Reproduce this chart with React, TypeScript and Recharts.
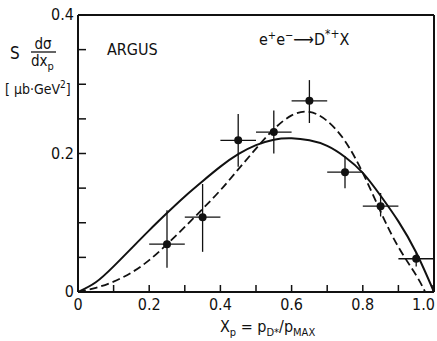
import { ComposedChart, ErrorBar, Line, Scatter, XAxis, YAxis } from 'recharts';

const INK = '#111';
const FONT = '"Liberation Sans Narrow", "DejaVu Sans Condensed", "Liberation Sans", sans-serif';

const pointX = [0.25, 0.35, 0.45, 0.55, 0.65, 0.75, 0.85, 0.95];
const pointY = [0.069, 0.108, 0.219, 0.231, 0.276, 0.173, 0.124, 0.048];
const pointLow = [0.035, 0.058, 0.181, 0.2, 0.244, 0.15, 0.109, 0.037];
const pointHigh = [0.118, 0.156, 0.257, 0.262, 0.306, 0.196, 0.143, 0.056];
const pointHalfBin = 0.05;

// solid model curve
const solidX = [0, 0.05, 0.1, 0.15, 0.2, 0.25, 0.3, 0.35, 0.4, 0.45, 0.5, 0.55, 0.6, 0.65, 0.7, 0.75, 0.8, 0.85, 0.9, 0.95, 1.0];
const solidY = [0, 0.014, 0.037, 0.063, 0.089, 0.114, 0.138, 0.16, 0.181, 0.199, 0.212, 0.22, 0.222, 0.219, 0.211, 0.195, 0.172, 0.139, 0.102, 0.057, 0];

// dashed model curve
const dashedX = [0, 0.05, 0.1, 0.15, 0.2, 0.25, 0.3, 0.35, 0.4, 0.45, 0.5, 0.55, 0.6, 0.65, 0.7, 0.75, 0.8, 0.85, 0.9, 0.95, 0.975];
const dashedY = [0, 0.006, 0.015, 0.028, 0.046, 0.069, 0.094, 0.12, 0.147, 0.177, 0.207, 0.235, 0.255, 0.26, 0.247, 0.218, 0.172, 0.116, 0.065, 0.024, 0];

const xTicks = [0, 0.1, 0.2, 0.3, 0.4, 0.5, 0.6, 0.7, 0.8, 0.9, 1.0];
const yTicks = [0, 0.05, 0.1, 0.15, 0.2, 0.25, 0.3, 0.35, 0.4];
const xLabelValues = [0, 0.2, 0.4, 0.6, 0.8, 1.0];
const xLabelText = ['0', '0.2', '0.4', '0.6', '0.8', '1.0'];
const yLabelValues = [0, 0.2, 0.4];
const yLabelText = ['0', '0.2', '0.4'];

const points = pointX.map((x, i) => ({
  x,
  y: pointY[i],
  ex: pointHalfBin,
  ey: [pointY[i] - pointLow[i], pointHigh[i] - pointY[i]],
}));
const solid = solidX.map((x, i) => ({ x, y: solidY[i] }));
const dashed = dashedX.map((x, i) => ({ x, y: dashedY[i] }));

const labelFor = (values: number[], texts: string[], v: number) => {
  const i = values.findIndex((t) => Math.abs(t - v) < 1e-6);
  return i >= 0 ? texts[i] : null;
};

const BottomTick = ({ x, y, payload }: any) => {
  const label = labelFor(xLabelValues, xLabelText, payload.value);
  // the last label sits against the right edge, so anchor it to its end
  const last = Math.abs(payload.value - 1) < 1e-6;
  return (
    <g>
      <line x1={x} y1={y} x2={x} y2={y - 7} stroke={INK} strokeWidth={1.5} />
      {label && (
        <text
          x={last ? x + 2 : x}
          y={y + 18}
          textAnchor={last ? 'end' : 'middle'}
          fill={INK}
          fontSize={16}
          fontFamily={FONT}
        >
          {label}
        </text>
      )}
    </g>
  );
};

const TopTick = ({ x, y }: any) => (
  <line x1={x} y1={y} x2={x} y2={y + 7} stroke={INK} strokeWidth={1.5} />
);

const LeftTick = ({ x, y, payload }: any) => {
  const label = labelFor(yLabelValues, yLabelText, payload.value);
  return (
    <g>
      <line x1={x} y1={y} x2={x + 8} y2={y} stroke={INK} strokeWidth={1.5} />
      {label && (
        <text x={x - 4} y={y + 5} textAnchor="end" fill={INK} fontSize={16} fontFamily={FONT}>
          {label}
        </text>
      )}
    </g>
  );
};

const RightTick = ({ x, y }: any) => (
  <line x1={x} y1={y} x2={x - 8} y2={y} stroke={INK} strokeWidth={1.5} />
);

export default function App() {
  return (
    <div style={{ position: 'absolute', left: 0, top: 0, width: 437, height: 341, background: '#fff' }}>
      <ComposedChart width={437} height={341} margin={{ top: 0, right: 0, bottom: 0, left: 0 }}>
        <XAxis
          xAxisId="bottom"
          dataKey="x"
          type="number"
          domain={[0, 1]}
          ticks={xTicks}
          allowDataOverflow
          height={49}
          tickSize={0}
          tickMargin={0}
          tickLine={false}
          tick={<BottomTick />}
          axisLine={{ stroke: INK, strokeWidth: 2 }}
        />
        <XAxis
          xAxisId="top"
          orientation="top"
          dataKey="x"
          type="number"
          domain={[0, 1]}
          ticks={xTicks}
          height={15}
          tickSize={0}
          tickMargin={0}
          tickLine={false}
          tick={<TopTick />}
          axisLine={{ stroke: INK, strokeWidth: 2 }}
        />
        <YAxis
          yAxisId="left"
          type="number"
          domain={[0, 0.4]}
          ticks={yTicks}
          allowDataOverflow
          width={78}
          tickSize={0}
          tickMargin={0}
          tickLine={false}
          tick={<LeftTick />}
          axisLine={{ stroke: INK, strokeWidth: 2 }}
        />
        <YAxis
          yAxisId="right"
          orientation="right"
          type="number"
          domain={[0, 0.4]}
          ticks={yTicks}
          width={3}
          tickSize={0}
          tickMargin={0}
          tickLine={false}
          tick={<RightTick />}
          axisLine={{ stroke: INK, strokeWidth: 2 }}
        />
        <Line
          xAxisId="bottom"
          yAxisId="left"
          data={solid}
          dataKey="y"
          type="natural"
          stroke={INK}
          strokeWidth={2}
          dot={false}
          isAnimationActive={false}
        />
        <Line
          xAxisId="bottom"
          yAxisId="left"
          data={dashed}
          dataKey="y"
          type="natural"
          stroke={INK}
          strokeWidth={1.8}
          strokeDasharray="8 4"
          dot={false}
          isAnimationActive={false}
        />
        <Scatter
          xAxisId="bottom"
          yAxisId="left"
          data={points}
          dataKey="y"
          fill={INK}
          shape={(p: any) => <circle cx={p.cx} cy={p.cy} r={4} fill={INK} />}
          isAnimationActive={false}
        >
          <ErrorBar dataKey="ey" direction="y" width={0} stroke={INK} strokeWidth={1.3} />
          <ErrorBar dataKey="ex" direction="x" width={0} stroke={INK} strokeWidth={1.3} />
        </Scatter>
      </ComposedChart>
      <svg
        width={437}
        height={341}
        style={{ position: 'absolute', left: 0, top: 0, pointerEvents: 'none' }}
        fontFamily={FONT}
        fill={INK}
      >
        <text x={10} y={59} fontSize={17}>S</text>
        <text x={43} y={49} fontSize={15} textAnchor="middle">dσ</text>
        <line x1={31} y1={52} x2={56} y2={52} stroke={INK} strokeWidth={1.3} />
        <text x={31} y={66} fontSize={15}>
          dx<tspan fontSize={11} dy={4}>p</tspan>
        </text>
        <text x={5} y={94} fontSize={14}>
          [ μb·GeV<tspan fontSize={10} dy={-6}>2</tspan>
          <tspan dy={6}>]</tspan>
        </text>
        <text x={107} y={55} fontSize={16}>ARGUS</text>
        <text x={259} y={45} fontSize={16}>
          e<tspan fontSize={11} dy={-6}>+</tspan>
          <tspan dy={6}>e</tspan>
          <tspan fontSize={11} dy={-6}>−</tspan>
          <tspan dy={6}>⟶D</tspan>
          <tspan fontSize={12} dy={-7}>*+</tspan>
          <tspan dy={7}>X</tspan>
        </text>
        <text x={220} y={332} fontSize={16}>
          X<tspan fontSize={11} dy={4}>p</tspan>
          <tspan dy={-4}> = p</tspan>
          <tspan fontSize={11} dy={4}>D*</tspan>
          <tspan dy={-4}>/p</tspan>
          <tspan fontSize={11} dy={4}>MAX</tspan>
        </text>
      </svg>
    </div>
  );
}
